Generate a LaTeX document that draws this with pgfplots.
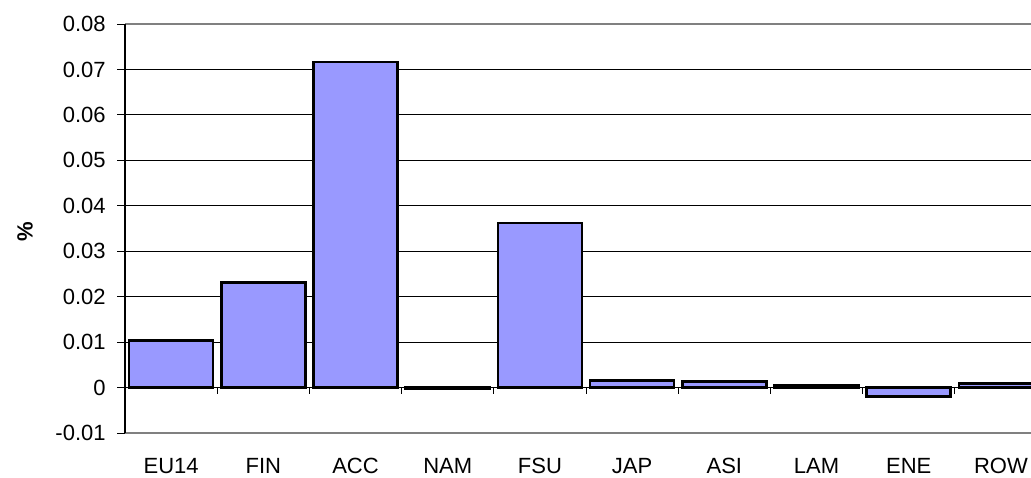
\documentclass[border=0pt]{standalone}
\usepackage{pgfplots}
\pgfplotsset{compat=1.18}
\usepackage{fontspec}
\setmainfont{Liberation Sans}
\definecolor{barblue}{RGB}{153,153,255}
\definecolor{bordergray}{RGB}{128,128,128}
\begin{document}
\begin{tikzpicture}
% page = visible region; the last category runs past the right edge as in the original
\path[use as bounding box] (-62.5pt,-22pt) rectangle (453pt,216.5pt);
\begin{axis}[
  at={(0,0)}, anchor=south west,
  scale only axis, width=461pt, height=204.5pt,
  xmin=-0.5, xmax=9.5, ymin=-0.01, ymax=0.08,
  xtick={0,...,9},
  xticklabels={EU14,FIN,ACC,NAM,FSU,JAP,ASI,LAM,ENE,ROW},
  xtick style={draw=none},
  xticklabel style={font=\fontsize{11}{13}\selectfont, inner sep=0pt, anchor=base, yshift=-16.25pt},
  ytick={-0.01,0,0.01,0.02,0.03,0.04,0.05,0.06,0.07,0.08},
  yticklabels={-0.01,0,0.01,0.02,0.03,0.04,0.05,0.06,0.07,0.08},
  scaled y ticks=false,
  ytick pos=left,
  tick align=outside, major tick length=4pt,
  ytick style={black, line width=0.5pt},
  yticklabel style={font=\fontsize{11}{13}\selectfont, inner sep=0pt, anchor=east, xshift=-5.5pt},
  axis line style={draw=none},
  ymajorgrids, grid style={black, line width=0.5pt},
  ylabel={\textbf{\%}},
  every axis y label/.style={at={(axis cs:-1.585,0.0343)}, rotate=90, anchor=center, font=\fontsize{11}{13}\selectfont},
  clip=false,
]
\addplot[ybar, bar width=0.91, fill=barblue, draw=black, line width=1.3pt]
  coordinates {
    (0,0.0104) (1,0.0231) (2,0.0716) (3,-0.0003) (4,0.0362)
    (5,0.0015) (6,0.0014) (7,0.0005) (8,-0.0020) (9,0.0009)
  };
% plot area border and axes
\draw[bordergray, line width=1pt] (axis cs:-0.5,0.08) -- (axis cs:9.5,0.08);
\draw[bordergray, line width=1pt] (axis cs:-0.5,-0.01) -- (axis cs:9.5,-0.01);
\draw[black, line width=0.75pt] (axis cs:-0.5,-0.01) -- (axis cs:-0.5,0.08);
\draw[black, line width=0.9pt] (axis cs:-0.5,0) -- (axis cs:9.5,0);
\pgfplotsinvokeforeach{0.5,1.5,...,8.5}{
  \draw[black, line width=0.5pt] (axis cs:#1,0) -- (axis cs:#1,-0.0015);
}
\end{axis}
\end{tikzpicture}
\end{document}
